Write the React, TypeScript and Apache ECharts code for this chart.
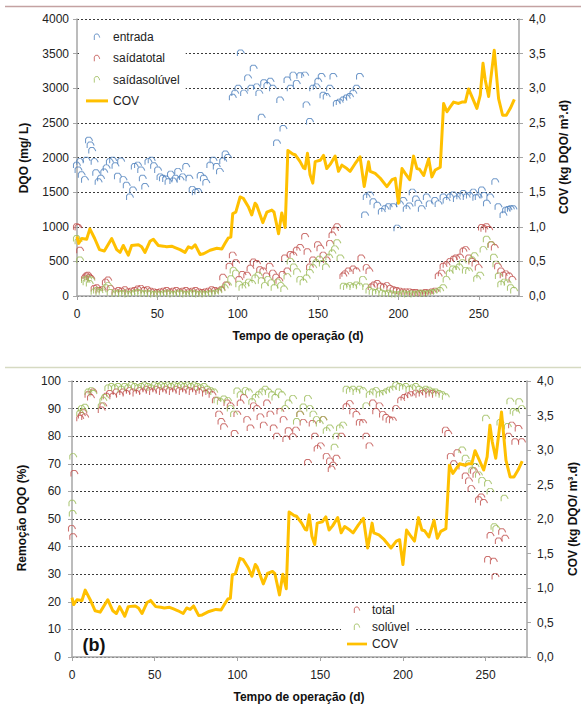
import { useEffect, useRef } from "react";
import * as echarts from "echarts";

const FONT = "'Liberation Sans', Arial, sans-serif";
const BLUE = "#4f81bd";
const RED = "#c0504d";
const GREEN = "#9bbb59";
const GOLD = "#ffc000";
const AXIS = "#a6a6a6";
const GRIDLINE = "#3a3a3a";

const xTicks = [0, 50, 100, 150, 200, 250];

// COV (kg DQO/m3.d) vs day
const cov: number[][] = [
  [0, 0.86], [1, 0.76], [3, 0.83], [6, 0.82], [8, 0.97], [11, 0.83], [14, 0.67], [17, 0.65], [21.6, 0.83],
  [24.7, 0.67], [26.8, 0.63], [28.8, 0.73], [31.9, 0.59], [34, 0.73], [38.2, 0.74], [40.2, 0.71], [42.3, 0.63],
  [45.4, 0.79], [47.5, 0.82], [50.6, 0.73], [53.7, 0.72], [55.8, 0.71], [58.9, 0.72], [61, 0.7], [64.1, 0.67],
  [67.2, 0.63], [69.3, 0.71], [71.4, 0.69], [73.5, 0.74], [76.6, 0.6], [78.7, 0.61], [82.8, 0.66], [87, 0.69],
  [90.1, 0.68], [92.1, 0.76], [94.2, 0.84], [95.7, 0.85], [96.9, 1.19], [98.8, 1.21], [101.5, 1.43], [103.5, 1.41],
  [106.6, 1.29], [108.7, 1.17], [110.8, 1.34], [111.8, 1.31], [115.6, 1.06], [118.1, 1.21], [121.2, 1.24],
  [122.6, 1.21], [125.4, 0.9], [127.4, 1.2], [129.5, 0.99], [131.2, 2.1], [134.2, 2.05], [135.7, 2.04],
  [138.8, 1.94], [140.9, 1.85], [141.9, 1.84], [143.4, 2.06], [145, 1.75], [146.7, 1.63], [148.2, 1.94],
  [151.3, 1.96], [153.4, 2.03], [155.4, 1.84], [157.5, 1.9], [160.6, 2.02], [162.7, 1.8], [164.8, 1.89],
  [167.9, 1.84], [169.9, 1.8], [173, 1.91], [176.1, 2.01], [178.7, 1.58], [181.4, 1.94], [182.4, 1.8],
  [185.5, 1.77], [188.7, 1.7], [192.8, 1.58], [196, 1.68], [198, 1.7], [200, 1.34], [202.2, 1.84], [204.2, 1.77],
  [207, 1.68], [209.4, 2.02], [211.5, 1.84], [213.1, 1.83], [215.7, 1.74], [218.8, 1.98], [220.8, 1.72],
  [222.9, 1.82], [226, 1.86], [228.1, 2.78], [230.2, 2.66], [232.2, 2.73], [234.3, 2.8], [237.4, 2.78],
  [239.5, 2.8], [241.6, 2.8], [243.6, 2.99], [245.7, 2.88], [248.8, 2.71], [250.9, 2.9], [252.6, 3.36],
  [254, 3.12], [256.1, 2.88], [259.6, 3.55], [262.3, 2.85], [264.8, 2.61], [267.1, 2.61], [269.6, 2.71],
  [272.1, 2.84],
];

// DQO entrada (mg/L)
const entrada: number[][] = [
  [0, 1890], [1, 1820], [2, 1940], [3, 1750], [5, 1680], [6, 1960], [7.5, 2250], [8.5, 2180], [9.5, 2100],
  [11, 1940], [12, 1780], [13.5, 1650], [15, 1700], [17, 1790], [18.5, 1850], [20.5, 1940], [22.5, 1960],
  [24, 1880], [25.5, 1730], [27.5, 1950], [29, 1680], [31, 1600], [33, 1430], [35, 1530], [36, 1870],
  [38, 1890], [40, 1820], [41, 1700], [42.5, 1580], [44.5, 1940], [46.5, 1960], [48, 1880], [50.5, 1820],
  [52, 1720], [53.5, 1700], [55.5, 1690], [57, 1650], [58.5, 1760], [60, 1660], [61.5, 1700], [63, 1800],
  [64.5, 1680], [66, 1720], [68, 1870], [70, 1700], [72, 1540], [74, 1500], [75.5, 1510], [77, 1740],
  [79, 1700], [80.5, 1640], [83, 1890], [85, 1960], [87, 1870], [89, 1800], [91, 1950], [92.5, 2050],
  [94, 2000], [97, 2870], [98.5, 2930], [100.5, 3000], [102, 3510], [104, 2930], [106.5, 3150], [108.5, 3000],
  [110, 3290], [112, 3020], [113.5, 2930], [115, 2580], [116.5, 3080], [118.5, 3040], [120.5, 3100],
  [122, 3000], [124.5, 2210], [126.5, 2830], [128.5, 2420], [131, 3120], [133, 3000], [134.7, 3190],
  [136.8, 3070], [139, 3180], [142, 3190], [142.9, 2760], [145, 2520], [147, 3000], [149.2, 3020],
  [150.2, 3100], [152.3, 3170], [153.4, 2900], [155.4, 2880], [157.5, 3000], [159.6, 3170], [161.7, 2780],
  [163.5, 2800], [165.8, 2830], [167.9, 2860], [169.9, 2880], [172, 2930], [174.1, 3000], [176.1, 3170],
  [179.3, 1170], [180.3, 1430], [182.4, 1460], [184.5, 1360], [187, 1310], [189.7, 1220], [191.8, 1260],
  [194, 1290], [197, 1290], [199.4, 980], [201, 1330], [203.2, 1380], [205.2, 1260], [207, 1300],
  [208.9, 1500], [211, 1400], [212.5, 1340], [214.6, 1260], [217.7, 1430], [219.5, 1330], [222.9, 1380],
  [225, 1330], [228.1, 1430], [230, 1380], [232.2, 1430], [234.3, 1460], [236.4, 1400], [238.5, 1440],
  [240.5, 1480], [242.5, 1430], [244.5, 1450], [246.8, 1500], [248.5, 1420], [250, 1430], [252, 1530],
  [253.5, 1450], [255.1, 1340], [257.2, 1430], [260.3, 1650], [262.3, 1290], [265.4, 1170], [267, 1240],
  [268.5, 1250], [270, 1260], [271.6, 1260],
];

// DQO saída total (mg/L)
const saidaTotal: number[][] = [
  [0, 1000], [1, 990], [2, 660], [5, 260], [6, 290], [7, 300], [8, 270], [9, 250], [11, 110], [12.5, 120],
  [14, 80], [16, 90], [18, 200], [19.5, 230], [21, 110], [24, 60], [26, 80], [28, 70], [30, 90], [32, 60],
  [34, 70], [36, 80], [38, 100], [40, 110], [42, 80], [44, 90], [46, 70], [48, 60], [50, 50], [52, 60],
  [54, 70], [56, 80], [58, 60], [60, 70], [62, 80], [64, 60], [66, 70], [68, 80], [70, 60], [72, 70],
  [74, 80], [76, 60], [78, 50], [80, 60], [82, 70], [84, 90], [86, 80], [88, 70], [90, 90], [91, 270],
  [93, 160], [95, 430], [97, 590], [99, 480], [101, 240], [103, 310], [106, 300], [108, 400], [110, 490],
  [112, 470], [114, 380], [116, 360], [118, 290], [120, 430], [122, 330], [124, 270], [126, 220], [128, 310],
  [129.5, 550], [131, 360], [133, 600], [134.7, 590], [136.8, 660], [139, 700], [142, 860], [143.5, 640],
  [145, 420], [147, 520], [150, 740], [151.5, 690], [153.4, 590], [155.5, 520], [157.5, 760], [159, 880],
  [160.6, 950], [162, 1000], [165.8, 290], [167, 320], [169, 360], [172, 390], [174, 360], [177, 550],
  [180.3, 410], [182, 360], [183.4, 130], [185, 160], [187, 180], [189, 140], [191, 130], [193, 150],
  [195, 110], [197, 90], [199, 80], [201, 70], [203, 60], [205, 60], [207, 60], [209, 50], [211, 50],
  [213, 40], [215, 40], [217, 50], [219, 45], [221, 60], [223, 70], [225.1, 290], [227, 330], [228.1, 430],
  [230, 450], [232.3, 500], [234.5, 530], [236, 550], [238.5, 560], [240.5, 650], [242, 670], [244, 550],
  [246, 500], [248, 470], [250, 410], [252, 990], [253.5, 970], [255, 1000], [256.5, 960], [258, 740],
  [260, 700], [262, 430], [264, 360], [265.5, 300], [267, 320], [269, 290], [271, 240],
];

// DQO saída solúvel (mg/L)
const saidaSoluvel: number[][] = [
  [0, 830], [1, 790], [2, 520], [5, 230], [6, 200], [7, 250], [8, 180], [9, 230], [11, 60], [12.5, 80],
  [14, 50], [16, 60], [18, 120], [19.5, 150], [21, 50], [24, 30], [26, 40], [28, 30], [30, 40], [32, 20],
  [34, 30], [36, 40], [38, 50], [40, 40], [42, 30], [44, 40], [46, 30], [48, 20], [50, 30], [52, 20],
  [54, 30], [56, 40], [58, 30], [60, 20], [62, 30], [64, 40], [66, 30], [68, 20], [70, 30], [72, 40],
  [74, 30], [76, 20], [78, 30], [80, 20], [82, 30], [84, 40], [86, 30], [88, 50], [90, 80], [92, 120],
  [94, 160], [96, 250], [97.5, 370], [99, 330], [101, 170], [103, 120], [105, 150], [107, 200], [109, 180],
  [111, 260], [113, 300], [115, 220], [117, 150], [119, 240], [121, 190], [123, 120], [125, 200], [127, 150],
  [129, 100], [131, 280], [133, 500], [135, 420], [137, 350], [139, 240], [141, 200], [143, 260], [145, 340],
  [147, 410], [149, 480], [151, 530], [153, 470], [155, 420], [157, 560], [159, 620], [160.6, 680],
  [162, 770], [164, 550], [166, 140], [168, 130], [170, 150], [172, 130], [174, 160], [176, 140], [178, 240],
  [180, 130], [182, 80], [184, 60], [186, 50], [188, 70], [190, 40], [192, 30], [194, 40], [196, 30],
  [198, 20], [200, 20], [202, 30], [204, 30], [206, 20], [208, 30], [210, 20], [212, 30], [214, 40],
  [216, 30], [218, 30], [220, 40], [222, 50], [224, 60], [226, 80], [228, 120], [230, 240], [232, 330],
  [234, 390], [236, 380], [238, 420], [240, 480], [242, 370], [244, 360], [246, 520], [247.5, 580],
  [249, 250], [251, 300], [253, 670], [255, 820], [257.7, 740], [259.5, 560], [261, 460], [262.5, 290],
  [264, 170], [266, 200], [268, 190], [270, 120], [272, 80],
];

// Remoção DQO total (%)
const remTotal: number[][] = [
  [0, 46.6], [0.8, 43.6], [1.5, 66.5], [5, 86.5], [6, 87.5], [7, 88.5], [8, 87], [10, 95], [11.5, 94],
  [13, 96], [18, 89.5], [19, 91], [21, 94.5], [23, 95.5], [25, 94.5], [27, 96], [29, 95], [31, 96],
  [33, 95.5], [35, 96.5], [37, 96], [39, 95.5], [41, 96.5], [43, 96], [45, 97], [47, 96.5], [49, 96],
  [51, 97], [53, 96.5], [55, 96], [57, 97], [59, 96.5], [61, 96], [63, 97], [65, 96.5], [67, 96], [69, 97],
  [71, 96.5], [73, 96], [75, 97], [77, 96], [79, 96.5], [81, 95.5], [83, 96], [85, 95], [87, 93], [89, 88],
  [90.4, 85.3], [92, 83.4], [94, 92], [96, 91], [98.4, 81], [100, 88], [102, 92], [104, 94], [106, 86],
  [108, 83], [110, 91], [112, 90], [114, 87], [116, 84], [118, 92], [120, 88], [122, 83], [124, 80],
  [126, 89], [128, 86], [129.6, 79], [131, 82], [133.7, 79.8], [135.5, 82.2], [138, 88], [140, 85],
  [142.7, 70.5], [145.5, 84.6], [147, 80], [148.5, 75.5], [150.5, 76.5], [152, 86], [154, 72.7], [156, 71],
  [157, 68.1], [158, 69.5], [160, 72], [163, 80], [166, 90.7], [168, 91.8], [170, 89], [172, 87.9],
  [174, 85], [176, 84.9], [178, 80], [179.9, 76.5], [182, 92], [183.9, 89], [186, 91], [188, 87.9],
  [190, 86.8], [192, 86], [194, 85.8], [196, 90], [199, 93], [201, 94], [203, 94.6], [205, 95], [208, 95.6],
  [210, 95], [212, 95.5], [214, 96], [216, 95], [218, 95.5], [220, 95], [226, 82.2], [227.5, 81],
  [229, 72.7], [231, 70], [233, 74], [236, 69], [238, 65.6], [240, 63.8], [241.5, 61], [243, 67.5],
  [244.5, 66], [246, 57], [247.5, 58], [249, 56], [251.5, 35.3], [253, 44], [255, 34.7], [256, 29.2],
  [258, 42], [260, 45.4], [262, 43], [264, 80], [266, 84], [268, 78], [270, 82.8], [272, 78],
];

// Remoção DQO solúvel (%)
const remSoluvel: number[][] = [
  [0.3, 55.7], [0.5, 52], [0.8, 72.6], [5, 88.3], [6, 90], [7, 89], [8, 90.5], [10, 96], [11.9, 96.5],
  [13, 95.5], [18, 91], [19, 93], [20, 94], [22, 97.5], [24, 98], [26, 97.5], [28, 98], [30, 97], [32, 98],
  [34, 97.5], [36, 98.5], [38, 98], [40, 97.5], [42, 98], [44, 98.5], [46, 98], [48, 97.5], [50, 98.5],
  [52, 98], [54, 98.5], [56, 98], [58, 98.5], [60, 98], [62, 98.5], [64, 98], [66, 98.5], [68, 98],
  [70, 98.5], [72, 98], [74, 98.5], [76, 98], [78, 97.5], [80, 98], [82, 97], [84, 96.5], [86, 96],
  [88, 93], [90, 92.5], [92, 93.5], [94.4, 92.9], [96, 90], [98, 88], [100, 96.4], [102, 95], [105, 96.5],
  [107, 96], [109, 92.5], [111, 94], [113, 95], [115, 96], [117, 97], [119, 96], [121, 95], [123, 94],
  [125, 96], [127, 95], [129, 90], [131, 92], [133.7, 93.7], [136, 85.3], [138, 88], [140, 90.6],
  [142.7, 93.7], [144, 90], [146, 88], [148, 86], [149.8, 84.6], [152, 86], [154, 82], [156, 83],
  [158.8, 76], [160, 80], [162, 83], [164, 84], [166, 97], [168, 96.5], [170, 97], [172, 96], [174, 97],
  [176, 96.5], [178, 91], [180, 95], [182, 96], [184, 96.5], [186, 95], [188, 95.5], [190, 96],
  [192, 96.7], [194, 97], [196, 98.5], [198, 98], [200, 97.5], [202, 98], [204, 97], [206, 97.5], [208, 98],
  [210, 97], [212, 96.5], [214, 97], [216, 96.7], [218, 96], [220, 96], [222, 95.5], [224, 95], [226, 94.3],
  [236, 75], [238, 72], [240, 70], [242, 67.7], [244, 69], [246, 66], [248, 64], [250.3, 86.5],
  [251.5, 62.9], [253, 60], [255.4, 47.2], [256.5, 46.5], [259, 85], [261.5, 57.5], [263.5, 83.5],
  [265, 92.7], [267, 89], [268.5, 88.5], [270.4, 92.5], [272, 90],
];

const MARKER = "path://M1,10 L1,3 L3,0 L7,0 L9,3 L10,6";
const LINE_ICON = "path://M0,0 L22,0 L22,3 L0,3 Z";

function scatter(name: string, data: number[][], color: string, xi: number, yi: number) {
  return {
    type: "scatter",
    name,
    xAxisIndex: xi,
    yAxisIndex: yi,
    data,
    symbol: MARKER,
    symbolSize: [7, 6],
    itemStyle: { color: "rgba(255,255,255,0)", borderColor: color, borderWidth: 1 },
    silent: true,
    z: 2,
  };
}

function covLine(xi: number, yi: number) {
  return {
    type: "line",
    name: "COV",
    xAxisIndex: xi,
    yAxisIndex: yi,
    data: cov,
    symbol: "none",
    showSymbol: false,
    lineStyle: { color: GOLD, width: 3, join: "round" },
    itemStyle: { color: GOLD },
    silent: true,
    z: 5,
  };
}

const commaFmt = (v: number) => v.toFixed(1).replace(".", ",");
const plainFmt = (v: number) => String(v);

function xAxis(gridIndex: number) {
  return {
    type: "value",
    gridIndex,
    min: 0,
    max: 275,
    interval: 50,
    axisLine: { show: true, onZero: false, lineStyle: { color: AXIS, width: 1.5 } },
    axisTick: { show: true, length: 4, customValues: xTicks, lineStyle: { color: AXIS } },
    axisLabel: {
      show: true,
      customValues: xTicks,
      margin: 12,
      color: "#222",
      fontSize: 12,
      fontFamily: FONT,
      formatter: (v: number) => (v % 50 === 0 ? String(v) : ""),
    },
    splitLine: { show: false },
  };
}

function yAxis(gridIndex: number, pos: string, max: number, interval: number, split: boolean, fmt: any, margin = 8) {
  return {
    type: "value",
    gridIndex,
    position: pos,
    min: 0,
    max,
    interval,
    axisLine: { show: true, lineStyle: { color: AXIS, width: 1.5 } },
    axisTick: { show: true, length: 4, lineStyle: { color: AXIS } },
    axisLabel: { show: true, margin, color: "#222", fontSize: 12, fontFamily: FONT, formatter: fmt },
    splitLine: { show: split, lineStyle: { color: GRIDLINE, type: [2, 2], width: 1 } },
  };
}

function vText(text: string, x: number, y: number, rotate = true, size = 12) {
  return {
    type: "text",
    x,
    y,
    rotation: rotate ? Math.PI / 2 : 0,
    z: 100,
    style: {
      text,
      fontSize: size,
      fontWeight: "bold",
      fontFamily: FONT,
      fill: "#111",
      align: "center",
      verticalAlign: "middle",
    },
  };
}

export default function App() {
  const ref = useRef<HTMLDivElement>(null);
  useEffect(() => {
    const chart = echarts.init(ref.current!, null, { renderer: "svg" });
    const legendBase = {
      orient: "vertical",
      backgroundColor: "#ffffff",
      selectedMode: false,
      itemHeight: 6,
      textStyle: { fontSize: 12, color: "#222", fontFamily: FONT, lineHeight: 14 },
      itemStyle: { borderWidth: 1 },
      z: 20,
    };
    chart.setOption({
      animation: false,
      backgroundColor: "#ffffff",
      grid: [
        { left: 77, top: 19, width: 442, height: 277, containLabel: false },
        { left: 72, top: 381, width: 455, height: 276, containLabel: false },
      ],
      xAxis: [xAxis(0), xAxis(1)],
      yAxis: [
        yAxis(0, "left", 4000, 500, true, plainFmt, 8),
        yAxis(0, "right", 4, 0.5, false, commaFmt, 10),
        yAxis(1, "left", 100, 10, true, plainFmt, 11),
        yAxis(1, "right", 4, 0.5, false, commaFmt, 10),
      ],
      legend: [
        {
          ...legendBase,
          data: ["entrada", "saídatotal", "saídasolúvel", { name: "COV", icon: LINE_ICON }],
          left: 80,
          top: 27,
          padding: [3, 6, 3, 6],
          itemWidth: 22,
          itemGap: 7.3,
        },
        {
          ...legendBase,
          data: ["total", "solúvel", { name: "COV", icon: LINE_ICON }],
          left: 341,
          top: 603,
          padding: [0, 6, 2, 6],
          itemWidth: 20,
          itemGap: 3,
        },
      ],
      graphic: [
        { type: "line", shape: { x1: 5, y1: 6.5, x2: 581, y2: 6.5 }, style: { stroke: "#c4a2a2", lineWidth: 1.5 }, silent: true },
        { type: "line", shape: { x1: 5, y1: 367.5, x2: 581, y2: 367.5 }, style: { stroke: "#d6dac2", lineWidth: 1.5 }, silent: true },
        vText("DQO (mg/ L)", 24, 158),
        vText("COV (kg DQO/ m³.d)", 564, 157),
        vText("Tempo de operação (d)", 298, 336, false),
        vText("Remoção DQO (%)", 22, 518),
        vText("COV (kg DQO/ m³.d)", 573, 519),
        vText("Tempo de operação (d)", 299, 697, false),
        vText("(b)", 94, 645, false, 18),
      ],
      series: [
        scatter("entrada", entrada, BLUE, 0, 0),
        scatter("saídatotal", saidaTotal, RED, 0, 0),
        scatter("saídasolúvel", saidaSoluvel, GREEN, 0, 0),
        covLine(0, 1),
        scatter("total", remTotal, RED, 1, 2),
        scatter("solúvel", remSoluvel, GREEN, 1, 2),
        covLine(1, 3),
      ],
    });
    return () => chart.dispose();
  }, []);
  return (
    <div
      ref={ref}
      style={{ position: "absolute", left: 0, top: 0, width: 581, height: 705, background: "#fff" }}
    />
  );
}
